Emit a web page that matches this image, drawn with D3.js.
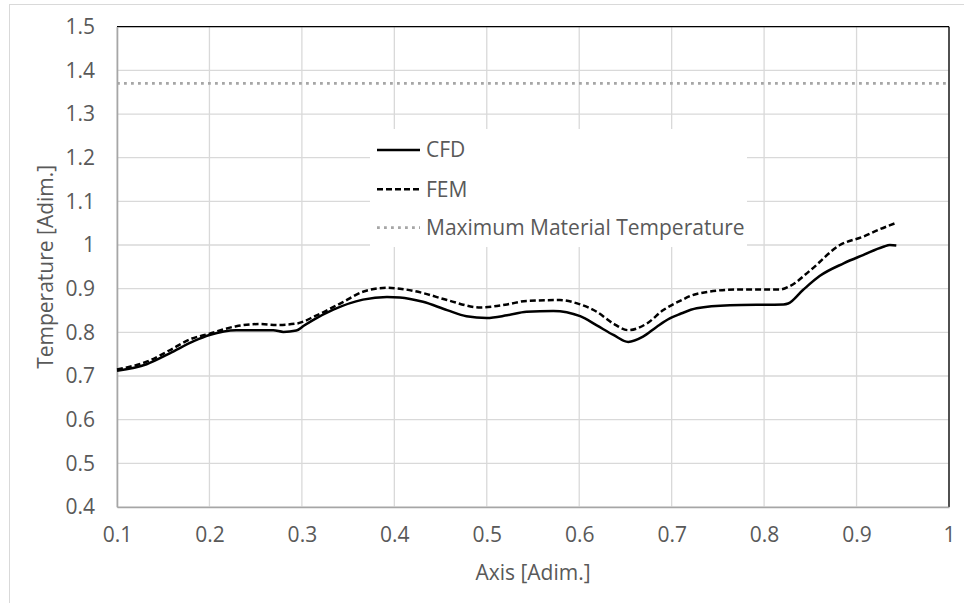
<!DOCTYPE html>
<html>
<head>
<meta charset="utf-8">
<script src="https://cdn.jsdelivr.net/npm/d3@7"></script>
<style>
  html, body { margin: 0; padding: 0; background: #fff; }
  svg { display: block; }
  text { font-family: "Open Sans", "Noto Sans", sans-serif; fill: #595959; }
</style>
</head>
<body>
<svg id="chart" width="964" height="603"></svg>
<script>
// Axis ticks
const xTicks = [0.1, 0.2, 0.3, 0.4, 0.5, 0.6, 0.7, 0.8, 0.9, 1];
const yTicks = [0.4, 0.5, 0.6, 0.7, 0.8, 0.9, 1, 1.1, 1.2, 1.3, 1.4, 1.5];

// CFD temperature profile
const cfdX = [0.100, 0.132, 0.157, 0.183, 0.200, 0.229, 0.269, 0.280, 0.294, 0.302, 0.312, 0.334, 0.366, 0.392,
              0.406, 0.431, 0.457, 0.478, 0.500, 0.522, 0.543, 0.572, 0.601, 0.619, 0.637, 0.653, 0.669, 0.684,
              0.698, 0.709, 0.727, 0.763, 0.821, 0.826, 0.842, 0.860, 0.886, 0.907, 0.929, 0.936, 0.943];
const cfdY = [0.712, 0.727, 0.752, 0.780, 0.794, 0.805, 0.805, 0.801, 0.804, 0.815, 0.828, 0.852, 0.875, 0.881,
              0.880, 0.870, 0.851, 0.837, 0.833, 0.839, 0.847, 0.849, 0.837, 0.816, 0.794, 0.778, 0.790, 0.813,
              0.832, 0.842, 0.855, 0.862, 0.864, 0.866, 0.897, 0.929, 0.958, 0.977, 0.996, 1.000, 0.999];

// FEM temperature profile
const femX = [0.100, 0.136, 0.157, 0.179, 0.200, 0.229, 0.255, 0.273, 0.294, 0.316, 0.345, 0.366, 0.392, 0.406,
              0.431, 0.457, 0.493, 0.522, 0.543, 0.579, 0.601, 0.619, 0.637, 0.653, 0.673, 0.691, 0.709, 0.727,
              0.770, 0.817, 0.828, 0.850, 0.882, 0.907, 0.925, 0.942];
const femY = [0.715, 0.736, 0.759, 0.784, 0.797, 0.814, 0.819, 0.817, 0.820, 0.839, 0.870, 0.893, 0.902, 0.900,
              0.890, 0.874, 0.857, 0.864, 0.872, 0.874, 0.864, 0.847, 0.820, 0.805, 0.820, 0.851, 0.872, 0.888,
              0.898, 0.898, 0.906, 0.942, 1.000, 1.019, 1.036, 1.050];

// Material limit
const maxMaterialTemp = 1.37;

const seriesNames = ["CFD", "FEM", "Maximum Material Temperature"];

const svg = d3.select("#chart");

// Outer chart frame
svg.append("rect")
  .attr("x", 9.5).attr("y", 4.5).attr("width", 990).attr("height", 640)
  .attr("fill", "none").attr("stroke", "#d9d9d9").attr("stroke-width", 1);

const x = d3.scaleLinear().domain([0.1, 1]).range([117, 949]);
const y = d3.scaleLinear().domain([0.4, 1.5]).range([507, 26.7]);

const fmt = d => (d === 1 ? "1" : d3.format(".1f")(d));

// Gridlines
svg.append("g")
  .selectAll("line.h")
  .data(yTicks)
  .join("line")
  .attr("x1", x(0.1)).attr("x2", x(1))
  .attr("y1", d => y(d)).attr("y2", d => y(d))
  .attr("stroke", "#d9d9d9").attr("stroke-width", 1.3);

svg.append("g")
  .selectAll("line.v")
  .data(xTicks)
  .join("line")
  .attr("x1", d => x(d)).attr("x2", d => x(d))
  .attr("y1", y(0.4)).attr("y2", y(1.5))
  .attr("stroke", "#d9d9d9").attr("stroke-width", 1.3);

// Plot area border (top & right dark)
svg.append("line")
  .attr("x1", x(0.1)).attr("x2", x(1)).attr("y1", y(1.5)).attr("y2", y(1.5))
  .attr("stroke", "#000").attr("stroke-width", 1.3);
svg.append("line")
  .attr("x1", x(1)).attr("x2", x(1)).attr("y1", y(1.5)).attr("y2", y(0.4))
  .attr("stroke", "#000").attr("stroke-width", 1.3);

// Axes
const xAxis = d3.axisBottom(x).tickValues(xTicks).tickFormat(fmt).tickSize(0).tickPadding(20);
const yAxis = d3.axisLeft(y).tickValues(yTicks).tickFormat(fmt).tickSize(0).tickPadding(22);

const gx = svg.append("g").attr("transform", `translate(0,${y(0.4)})`).call(xAxis);
const gy = svg.append("g").attr("transform", `translate(${x(0.1)},0)`).call(yAxis);

[gx, gy].forEach(g => {
  g.select(".domain").attr("stroke", "#a6a6a6").attr("stroke-width", 1.6);
  g.selectAll("text")
    .attr("fill", "#595959")
    .style("font-family", '"Open Sans", sans-serif')
    .style("font-size", "21px");
});

// Axis titles
svg.append("text")
  .attr("x", (x(0.1) + x(1)) / 2).attr("y", 580)
  .attr("text-anchor", "middle")
  .style("font-size", "21px")
  .text("Axis [Adim.]");

svg.append("text")
  .attr("transform", `translate(53,${y(0.95)}) rotate(-90)`)
  .attr("text-anchor", "middle")
  .style("font-size", "21px")
  .text("Temperature [Adim.]");

// Maximum material temperature
svg.append("line")
  .attr("x1", x(0.1)).attr("x2", x(1))
  .attr("y1", y(maxMaterialTemp)).attr("y2", y(maxMaterialTemp))
  .attr("stroke", "#a6a6a6").attr("stroke-width", 2.8)
  .attr("stroke-dasharray", "2.8 4.2");

const line = d3.line()
  .x(d => x(d[0])).y(d => y(d[1]))
  .curve(d3.curveMonotoneX);

const cfd = cfdX.map((v, i) => [v, cfdY[i]]);
const fem = femX.map((v, i) => [v, femY[i]]);

svg.append("path").datum(cfd)
  .attr("d", line)
  .attr("fill", "none").attr("stroke", "#000").attr("stroke-width", 2.5)
  .attr("stroke-linejoin", "round");

svg.append("path").datum(fem)
  .attr("d", line)
  .attr("fill", "none").attr("stroke", "#000").attr("stroke-width", 2.5)
  .attr("stroke-dasharray", "6 3");

// Legend
const legend = svg.append("g");
legend.append("rect")
  .attr("x", 370).attr("y", 129).attr("width", 377).attr("height", 118)
  .attr("fill", "#fff");

const legendStyles = [
  { stroke: "#000", dash: null, width: 2.5 },
  { stroke: "#000", dash: "6 3", width: 2.5 },
  { stroke: "#a6a6a6", dash: "2.8 4.2", width: 2.8 }
];
const rowY = [150, 189.3, 227.7];

seriesNames.forEach((name, i) => {
  legend.append("line")
    .attr("x1", 377).attr("x2", 420)
    .attr("y1", rowY[i]).attr("y2", rowY[i])
    .attr("stroke", legendStyles[i].stroke)
    .attr("stroke-width", legendStyles[i].width)
    .attr("stroke-dasharray", legendStyles[i].dash);
  legend.append("text")
    .attr("x", 426).attr("y", rowY[i])
    .attr("dy", "0.35em")
    .style("font-size", "21px")
    .text(name);
});
</script>
</body>
</html>
